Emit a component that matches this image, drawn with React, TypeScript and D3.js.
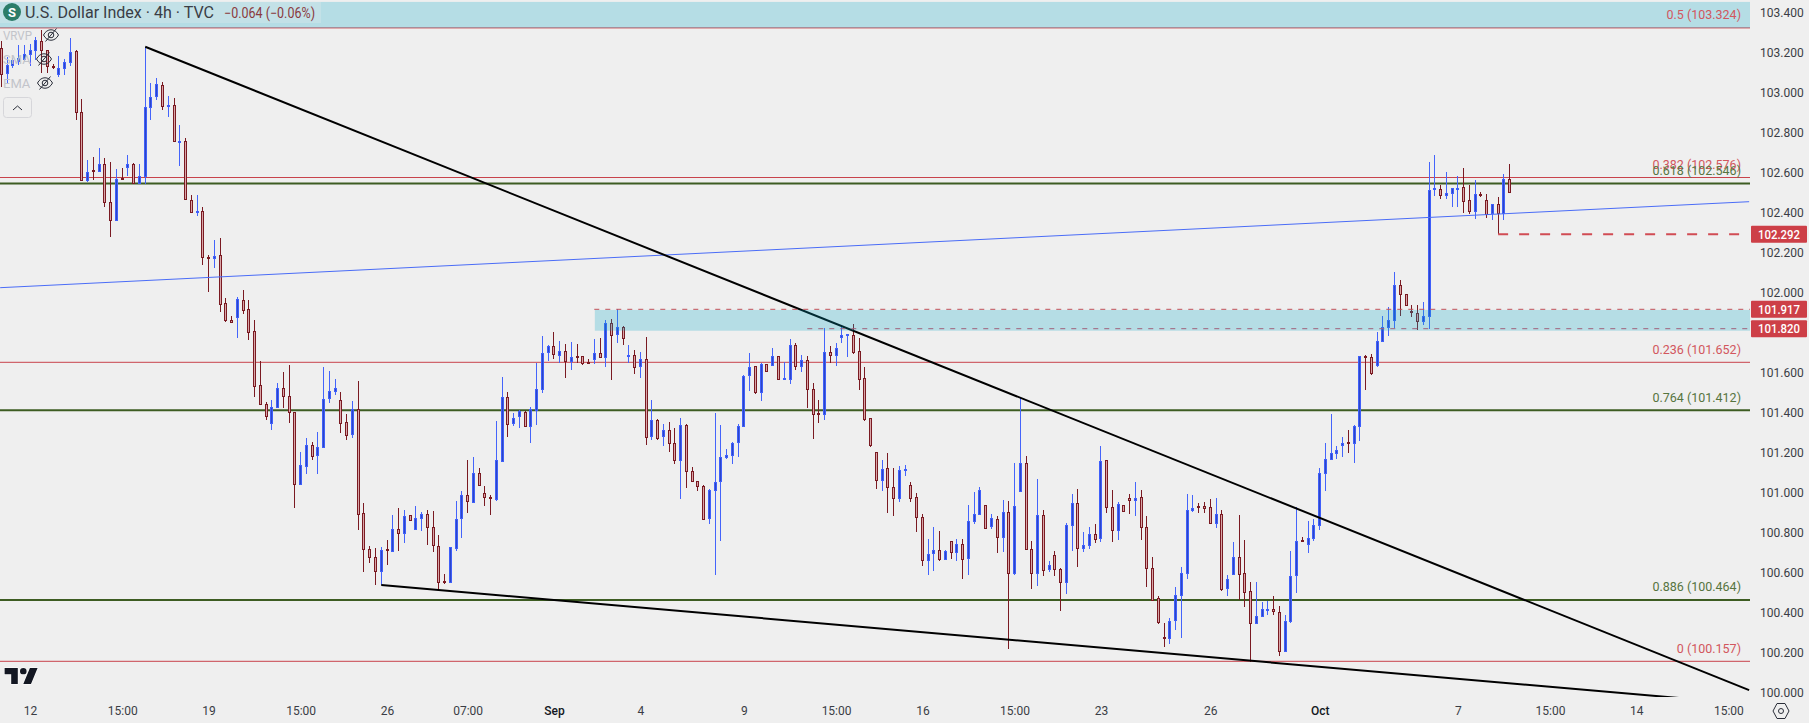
import * as d3 from 'd3';
import { useEffect, useRef } from 'react';

const WIDTH = 1809;
const HEIGHT = 723;
const PANE_RIGHT = 1750;
const PANE_BOTTOM = 697;
const FONT = 'Roboto, sans-serif';

// 4h candles
const opens = [
  103.222,103.097,103.138,103.155,103.167,103.190,103.210,103.255,103.210,103.133,
  103.092,103.120,103.150,103.208,102.902,102.562,102.613,102.607,102.643,102.452,
  102.362,102.573,102.625,102.643,102.547,102.580,102.927,102.980,103.037,102.930,
  102.937,102.753,102.757,102.462,102.403,102.407,102.174,102.170,102.188,101.947,
  101.863,101.875,101.962,101.917,101.807,101.537,101.442,101.345,101.425,101.522,
  101.482,101.402,101.040,101.130,101.237,101.185,101.227,101.472,101.505,101.462,
  101.352,101.290,101.417,100.897,100.717,100.677,100.605,100.717,100.705,100.817,
  100.795,100.887,100.815,100.870,100.892,100.827,100.732,100.557,100.550,100.723,
  100.870,100.987,100.952,101.097,100.997,100.978,100.968,101.158,101.477,101.345,
  101.380,101.402,101.330,101.412,101.515,101.700,101.732,101.685,101.707,101.655,
  101.683,101.680,101.650,101.667,101.697,101.677,101.847,101.790,101.827,101.683,
  101.687,101.630,101.667,101.280,101.362,101.280,101.312,101.247,101.162,101.338,
  101.107,101.055,101.033,100.870,101.010,101.055,101.178,101.185,101.250,101.330,
  101.585,101.632,101.500,101.642,101.637,101.682,101.566,101.567,101.737,101.630,
  101.662,101.517,101.397,101.392,101.700,101.685,101.775,101.787,101.787,101.707,
  101.572,101.372,101.202,101.062,101.122,101.027,100.972,101.113,101.037,100.977,
  100.877,100.662,100.697,100.712,100.667,100.757,100.702,100.743,100.672,100.855,
  100.893,100.937,100.830,100.867,100.775,100.902,100.595,101.005,101.147,100.717,
  100.597,100.887,100.615,100.687,100.617,100.552,100.837,100.947,100.722,100.735,
  100.792,100.772,101.162,100.927,100.812,100.937,100.972,100.960,100.977,100.827,
  100.622,100.472,100.277,100.272,100.362,100.487,100.597,100.910,100.933,100.932,
  100.927,100.848,100.892,100.520,100.590,100.677,100.597,100.507,100.348,100.380,
  100.413,100.418,100.402,100.205,100.355,100.585,100.763,100.740,100.770,100.835,
  101.095,101.167,101.197,101.235,101.252,101.247,101.333,101.683,101.677,101.635,
  101.758,101.825,101.860,102.037,101.992,101.907,101.897,101.857,101.880,102.515,
  102.517,102.487,102.497,102.520,102.527,102.462,102.407,102.493,102.462,102.397,
  102.442,102.398,102.567,
];
const closes = [
  103.092,103.137,103.160,103.172,103.189,103.210,103.260,103.210,103.133,103.130,
  103.122,103.153,103.202,102.902,102.562,102.602,102.610,102.643,102.452,102.362,
  102.567,102.570,102.643,102.545,102.582,102.927,102.977,103.042,102.930,102.937,
  102.755,102.757,102.464,102.400,102.408,102.177,102.170,102.183,101.942,101.860,
  101.850,101.967,101.910,101.800,101.530,101.442,101.380,101.427,101.522,101.480,
  101.400,101.040,101.137,101.237,101.180,101.227,101.467,101.507,101.522,101.347,
  101.287,101.414,100.890,100.717,100.675,100.605,100.712,100.710,100.817,100.795,
  100.882,100.860,100.872,100.892,100.825,100.735,100.550,100.550,100.727,100.867,
  100.987,100.955,101.097,101.035,100.975,100.975,101.162,101.477,101.340,101.372,
  101.404,101.330,101.414,101.517,101.697,101.732,101.690,101.707,101.655,101.677,
  101.678,101.645,101.645,101.697,101.675,101.847,101.787,101.825,101.772,101.688,
  101.627,101.667,101.275,101.362,101.270,101.312,101.245,101.160,101.337,101.105,
  101.055,101.030,100.867,101.012,101.052,101.177,101.187,101.248,101.333,101.583,
  101.627,101.500,101.642,101.605,101.682,101.567,101.570,101.737,101.630,101.662,
  101.517,101.392,101.393,101.702,101.685,101.722,101.787,101.790,101.700,101.565,
  101.365,101.235,101.062,101.115,101.027,100.972,101.112,101.118,100.972,100.877,
  100.662,100.692,100.712,100.665,100.707,100.702,100.743,100.665,100.858,100.892,
  101.012,100.823,100.872,100.775,100.902,100.597,100.932,101.147,100.717,100.597,
  100.887,100.610,100.635,100.615,100.552,100.837,100.947,100.722,100.735,100.792,
  100.765,101.157,100.927,100.812,100.942,100.907,100.960,100.972,100.827,100.622,
  100.463,100.352,100.272,100.357,100.487,100.597,100.912,100.922,100.928,100.920,
  100.848,100.892,100.518,100.567,100.677,100.590,100.500,100.347,100.382,100.417,
  100.418,100.405,100.205,100.357,100.582,100.757,100.758,100.772,100.837,101.097,
  101.167,101.197,101.212,101.247,101.248,101.333,101.680,101.680,101.597,101.758,
  101.827,101.862,102.037,101.992,101.938,101.900,101.857,101.882,102.512,102.522,
  102.487,102.497,102.520,102.523,102.457,102.405,102.492,102.485,102.393,102.442,
  102.395,102.567,102.500,
];
const highs = [
  103.260,103.180,103.172,103.239,103.239,103.244,103.277,103.314,103.214,103.144,
  103.184,103.167,103.272,103.214,102.969,102.664,102.677,102.722,102.672,102.652,
  102.618,102.625,102.688,102.647,102.643,103.230,103.047,103.072,103.052,102.984,
  102.974,102.839,102.772,102.488,102.488,102.430,102.188,102.264,102.272,101.972,
  101.883,101.977,102.013,101.963,101.864,101.659,101.452,101.464,101.547,101.604,
  101.639,101.402,101.203,101.272,101.253,101.303,101.628,101.608,101.568,101.502,
  101.393,101.457,101.559,100.947,100.733,100.722,100.727,100.763,100.889,100.924,
  100.914,100.887,100.934,100.902,100.914,100.908,100.789,100.593,100.727,100.958,
  101.008,101.163,101.177,101.122,101.033,100.988,101.357,101.578,101.504,101.397,
  101.415,101.407,101.428,101.650,101.784,101.738,101.804,101.758,101.743,101.753,
  101.743,101.683,101.667,101.768,101.772,101.864,101.867,101.917,101.833,101.740,
  101.713,101.704,101.777,101.463,101.368,101.343,101.353,101.323,101.374,101.343,
  101.128,101.057,101.037,101.017,101.397,101.338,101.217,101.253,101.343,101.587,
  101.697,101.633,101.650,101.642,101.723,101.682,101.652,101.768,101.748,101.688,
  101.682,101.547,101.462,101.822,101.733,101.747,101.837,101.792,101.842,101.772,
  101.627,101.372,101.202,101.164,101.197,101.122,101.133,101.138,101.052,100.997,
  100.893,100.768,100.828,100.808,100.712,100.757,100.768,100.768,100.938,101.003,
  101.027,100.937,100.893,100.883,100.963,100.958,101.148,101.477,101.183,100.757,
  101.068,100.912,100.658,100.707,100.622,100.847,100.992,101.018,100.802,100.828,
  100.843,101.233,101.162,101.012,100.953,100.937,100.992,101.052,101.012,100.883,
  100.678,100.482,100.348,100.372,100.528,100.628,100.993,100.987,100.947,100.953,
  100.968,100.973,100.912,100.588,100.752,100.888,100.763,100.553,100.553,100.453,
  100.460,100.483,100.433,100.387,100.707,100.927,100.777,100.858,100.868,101.122,
  101.250,101.393,101.233,101.277,101.313,101.337,101.680,101.688,101.693,101.805,
  101.883,101.927,102.102,102.063,101.992,101.938,101.938,101.953,102.654,102.689,
  102.538,102.604,102.520,102.583,102.622,102.538,102.563,102.503,102.493,102.443,
  102.480,102.594,102.644,
];
const lows = [
  103.027,103.047,103.122,103.139,103.155,103.135,103.164,103.100,103.100,103.120,
  103.080,103.090,103.135,102.864,102.560,102.555,102.562,102.605,102.427,102.277,
  102.362,102.570,102.585,102.542,102.542,102.542,102.864,102.964,102.914,102.880,
  102.755,102.635,102.464,102.397,102.383,102.139,102.005,102.125,101.905,101.855,
  101.850,101.775,101.893,101.764,101.480,101.442,101.363,101.314,101.425,101.425,
  101.350,100.925,101.040,101.093,101.163,101.093,101.227,101.450,101.488,101.300,
  101.263,101.274,100.815,100.605,100.647,100.538,100.538,100.638,100.705,100.708,
  100.750,100.860,100.813,100.810,100.738,100.705,100.517,100.545,100.550,100.708,
  100.775,100.900,100.947,101.033,100.933,100.888,100.960,101.152,101.279,101.335,
  101.325,101.330,101.250,101.340,101.500,101.658,101.668,101.650,101.575,101.613,
  101.650,101.640,101.645,101.643,101.675,101.630,101.563,101.750,101.738,101.650,
  101.593,101.573,101.238,101.263,101.263,101.233,101.203,101.143,100.968,101.023,
  101.055,101.008,100.867,100.843,100.590,100.758,101.170,101.143,101.180,101.330,
  101.508,101.492,101.458,101.605,101.635,101.567,101.566,101.543,101.613,101.605,
  101.423,101.268,101.350,101.363,101.650,101.633,101.748,101.678,101.693,101.513,
  101.360,101.230,101.018,101.010,100.900,100.885,100.955,101.085,100.955,100.805,
  100.635,100.588,100.608,100.660,100.665,100.670,100.658,100.568,100.588,100.843,
  100.888,100.818,100.818,100.700,100.703,100.220,100.588,101.005,100.717,100.518,
  100.533,100.585,100.605,100.585,100.410,100.495,100.708,100.630,100.705,100.720,
  100.750,100.752,100.900,100.755,100.765,100.907,100.892,100.885,100.765,100.528,
  100.462,100.345,100.228,100.243,100.313,100.273,100.568,100.903,100.897,100.897,
  100.848,100.823,100.508,100.483,100.588,100.463,100.428,100.155,100.348,100.378,
  100.388,100.388,100.183,100.205,100.350,100.500,100.755,100.700,100.760,100.815,
  101.010,101.163,101.170,101.177,101.200,101.150,101.260,101.513,101.588,101.630,
  101.755,101.785,101.822,101.885,101.933,101.880,101.813,101.838,101.818,102.483,
  102.470,102.470,102.430,102.430,102.400,102.393,102.370,102.478,102.373,102.363,
  102.292,102.363,102.500,
];

// Time axis, as bar numbers
const timeTicks = [5, 21, 36, 52, 67, 81, 96, 111, 129, 145, 160, 176, 191, 210, 229, 253, 269, 284, 300];
const timeLabels = ['12', '15:00', '19', '15:00', '26', '07:00', 'Sep', '4', '9', '15:00', '16', '15:00', '23', '26', 'Oct', '7', '15:00', '14', '15:00'];
const priceTicks = d3.range(0, 18).map((i) => 100 + i * 0.2);

// Fib levels
const redFibLevels = [0.5, 0.382, 0.236, 0];
const redFibPrices = [103.324, 102.576, 101.652, 100.157];
const greenFibLevels = [0.618, 0.764, 0.886];
const greenFibPrices = [102.546, 101.412, 100.464];

// Drawn lines: [bar, price] pairs
const upperTrend: [number, number][] = [[25, 103.23], [303.6, 100.013]];
const lowerTrend: [number, number][] = [[66, 100.5385], [300, 99.952]];
const blueTrend: [number, number][] = [[-0.2, 102.025], [303.6, 102.455]];

const zoneBar = 103.1;
const zoneTop = 101.914;
const zoneBottom = 101.81;
const bandTop = 103.454;
const bandBottom = 103.324;
const zoneHighDashStart = 103;
const zoneLowDashStart = 140;
const lastLowBar = 260;
const priceTags = [102.292, 101.917, 101.82];

const xScale = d3.scaleLinear().domain([0, 1]).range([1.3, 7.057]);
const yScale = d3.scaleLinear().domain([100, 103.4]).range([692.7, 12.7]);
const trendLine = d3
  .line<[number, number]>()
  .x((d) => xScale(d[0]))
  .y((d) => yScale(d[1]));

const RED = '#c8434b';
const GREEN = '#3d5c22';
const RED_TEXT = '#d2565d';
const GREEN_TEXT = '#567440';

const EyeOff = ({ cx, cy }: { cx: number; cy: number }) => (
  <g transform={`translate(${cx},${cy})`} fill="none" stroke="#2a2e39" strokeWidth={1}>
    <path d="M-7.5 0C-4 -7 4 -7 7.5 0C4 7 -4 7 -7.5 0Z" />
    <circle r={2.8} />
    <line x1={-5.5} y1={6.5} x2={5.5} y2={-6.5} />
  </g>
);

export default function App() {
  const xAxisRef = useRef<SVGGElement | null>(null);
  const yAxisRef = useRef<SVGGElement | null>(null);

  // Render the axes with d3
  useEffect(() => {
    const xAxis = d3
      .axisBottom(xScale)
      .tickValues(timeTicks)
      .tickFormat((_, i) => timeLabels[i])
      .tickSize(0)
      .tickPadding(0);
    const xG = d3.select(xAxisRef.current!);
    xG.selectAll('*').remove();
    xG.call(xAxis as any);
    xG.select('.domain').remove();
    xG.selectAll('text')
      .attr('font-family', FONT)
      .attr('font-size', 12)
      .attr('fill', (_, i) => (/[a-z]/.test(timeLabels[i]) ? '#131722' : '#3a3d45'))
      .attr('font-weight', (_, i) => (/[a-z]/.test(timeLabels[i]) ? 500 : 400));

    const yAxis = d3
      .axisRight(yScale)
      .tickValues(priceTicks)
      .tickFormat(d3.format('.3f') as any)
      .tickSize(0)
      .tickPadding(0);
    const yG = d3.select(yAxisRef.current!);
    yG.selectAll('*').remove();
    yG.call(yAxis as any);
    yG.select('.domain').remove();
    yG.selectAll('text').attr('font-family', FONT).attr('font-size', 12).attr('fill', '#3a3d45');
  }, []);

  const candles = opens.map((open, i) => {
    const cx = Math.round(xScale(i) - 0.5) + 0.5;
    const up = closes[i] >= open;
    const top = yScale(Math.max(open, closes[i]));
    const bottom = yScale(Math.min(open, closes[i]));
    return (
      <g key={i}>
        <line
          x1={cx}
          x2={cx}
          y1={yScale(highs[i])}
          y2={yScale(lows[i])}
          stroke={up ? '#4464fb' : '#7a1a22'}
        />
        <rect
          x={cx - 1}
          y={top}
          width={2}
          height={Math.max(bottom - top, 1)}
          fill={up ? '#2c46c8' : '#d9a6a8'}
          stroke={up ? '#3f5ffa' : '#7a1a22'}
        />
      </g>
    );
  });

  return (
    <svg
      width={WIDTH}
      height={HEIGHT}
      style={{ position: 'absolute', left: 0, top: 0, background: '#efefef' }}
    >
      <defs>
        <clipPath id="pane">
          <rect x={0} y={0} width={PANE_RIGHT} height={PANE_BOTTOM} />
        </clipPath>
      </defs>

      <g clipPath="url(#pane)">
        {/* Fib lines */}
        {redFibPrices.map((p) => (
          <line key={p} x1={0} x2={PANE_RIGHT} y1={yScale(p)} y2={yScale(p)} stroke={RED} strokeWidth={1} />
        ))}
        {greenFibPrices.map((p) => (
          <line key={p} x1={0} x2={PANE_RIGHT} y1={yScale(p)} y2={yScale(p)} stroke={GREEN} strokeWidth={2} />
        ))}

        <g shapeRendering="crispEdges">{candles}</g>

        {/* Drawn trend lines */}
        <path d={trendLine(blueTrend)!} fill="none" stroke="#4a6cf7" strokeWidth={1} />
        <path d={trendLine(upperTrend)!} fill="none" stroke="#000" strokeWidth={2} />
        <path d={trendLine(lowerTrend)!} fill="none" stroke="#000" strokeWidth={2} />

        {/* Zones */}
        <rect
          x={0}
          y={yScale(bandTop)}
          width={PANE_RIGHT}
          height={yScale(bandBottom) - yScale(bandTop)}
          fill="#08a8c8"
          fillOpacity={0.25}
        />
        <rect
          x={xScale(zoneBar)}
          y={yScale(zoneTop)}
          width={PANE_RIGHT - xScale(zoneBar)}
          height={yScale(zoneBottom) - yScale(zoneTop)}
          fill="#08a8c8"
          fillOpacity={0.25}
        />

        {/* Dashed price lines */}
        <line
          x1={xScale(zoneHighDashStart)}
          x2={PANE_RIGHT}
          y1={yScale(priceTags[1])}
          y2={yScale(priceTags[1])}
          stroke="#c04f58"
          strokeDasharray="5 6"
        />
        <line
          x1={xScale(zoneLowDashStart)}
          x2={PANE_RIGHT}
          y1={yScale(priceTags[2])}
          y2={yScale(priceTags[2])}
          stroke="#a0607a"
          strokeDasharray="5 6"
        />
        <line
          x1={xScale(lastLowBar)}
          x2={PANE_RIGHT}
          y1={yScale(priceTags[0])}
          y2={yScale(priceTags[0])}
          stroke="#d14c54"
          strokeWidth={2}
          strokeDasharray="10 11"
        />
      </g>

      {/* Fib labels */}
      <g fontFamily={FONT} fontSize={12.5} textAnchor="end" dominantBaseline="central">
        {redFibPrices.map((p, i) => (
          <text key={p} x={1741} y={yScale(p) - 13} fill={RED_TEXT}>
            {`${redFibLevels[i]} (${p.toFixed(3)})`}
          </text>
        ))}
        {greenFibPrices.map((p, i) => (
          <text key={p} x={1741} y={yScale(p) - 13} fill={GREEN_TEXT}>
            {`${greenFibLevels[i]} (${p.toFixed(3)})`}
          </text>
        ))}
      </g>

      {/* Axes */}
      <g ref={xAxisRef} transform="translate(0,706.5)" />
      <g ref={yAxisRef} transform="translate(1760,0)" />

      {/* Price tags */}
      {priceTags.map((p) => (
        <g key={p}>
          <rect x={1751} y={yScale(p) - 8.5} width={56} height={17} fill="#cd3f47" rx={1} />
          <text
            x={1779}
            y={yScale(p)}
            fill="#fff"
            fontFamily={FONT}
            fontSize={12.5}
            fontWeight={500}
            textAnchor="middle"
            dominantBaseline="central"
            textLength={42}
            lengthAdjust="spacingAndGlyphs"
          >
            {p.toFixed(3)}
          </text>
        </g>
      ))}

      {/* Legend */}
      <rect x={0} y={2} width={321} height={21} fill="#efefef" fillOpacity={0.25} />
      <circle cx={12} cy={12} r={9} fill="#2c7d68" />
      <text x={12} y={12.5} fill="#fff" fontFamily={FONT} fontSize={13} fontWeight={700} textAnchor="middle" dominantBaseline="central">
        S
      </text>
      <text
        x={25}
        y={12.5}
        fill="#3a3d45"
        fontFamily={FONT}
        fontSize={16}
        dominantBaseline="central"
        textLength={189}
        lengthAdjust="spacingAndGlyphs"
      >
        U.S. Dollar Index · 4h · TVC
      </text>
      <text
        x={224}
        y={12.5}
        fill="#8a3a40"
        fontFamily={FONT}
        fontSize={14}
        dominantBaseline="central"
        textLength={91}
        lengthAdjust="spacingAndGlyphs"
      >
        −0.064 (−0.06%)
      </text>
      <g fontFamily={FONT} fontSize={13} fill="#c2c4ca" dominantBaseline="central">
        <text x={3} y={35} textLength={29} lengthAdjust="spacingAndGlyphs">VRVP</text>
        <text x={3} y={59}>SMA</text>
        <text x={3} y={83}>EMA</text>
      </g>
      <EyeOff cx={51} cy={35} />
      <EyeOff cx={44} cy={59} />
      <EyeOff cx={45} cy={83} />
      <rect x={3.5} y={97.5} width={28} height={20} rx={3} fill="none" stroke="#d6d6da" />
      <path d="M13 110l4.5-4 4.5 4" fill="none" stroke="#2a2e39" strokeWidth={1} />

      {/* TradingView mark */}
      <path
        transform="translate(2.4,661.5) scale(1.1,1.07)"
        d="M14 6H2v6h6v9h6V6Zm12 15h-7l6-15h7l-6 15Zm-7-9a3 3 0 1 0 0-6 3 3 0 0 0 0 6Z"
        fill="#131722"
        stroke="#fff"
        strokeWidth={1}
        paintOrder="stroke"
      />

      {/* Settings */}
      <g transform="translate(1781,711)" fill="none" stroke="#2a2e39" strokeWidth={1}>
        <path d="M-4 -7.5H4L8 0L4 7.5H-4L-8 0Z" />
        <circle r={2.5} />
      </g>
    </svg>
  );
}
